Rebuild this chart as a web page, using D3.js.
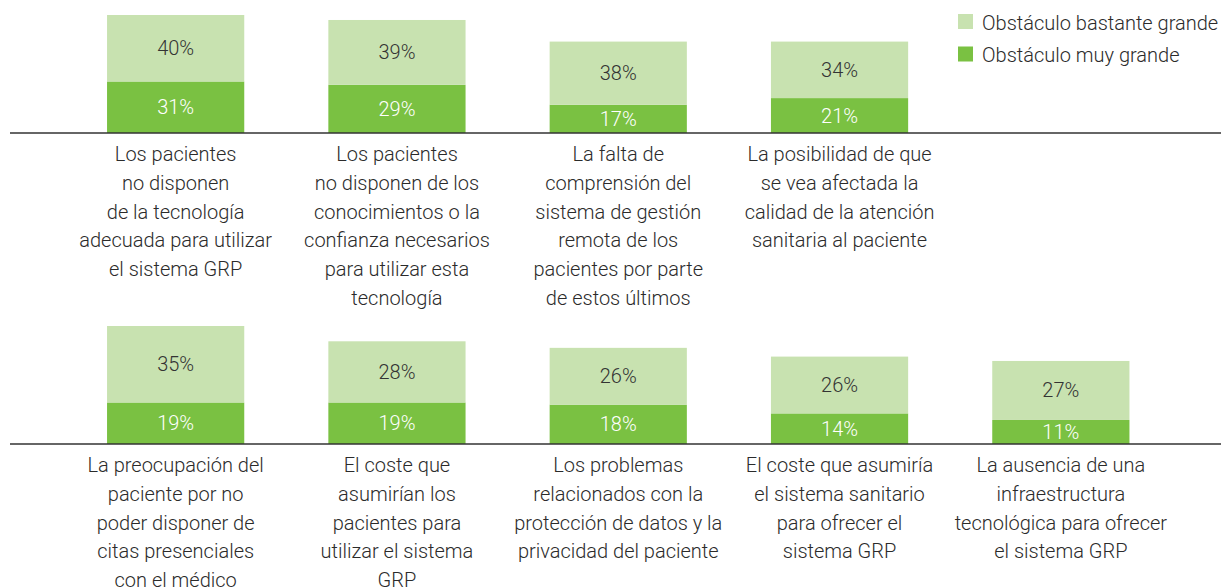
<!DOCTYPE html>
<html lang="es">
<head>
<meta charset="utf-8">
<script src="https://cdn.jsdelivr.net/npm/d3@7"></script>
<style>
  html, body { margin: 0; padding: 0; background: #fff; }
  svg text { font-family: Roboto, "Noto Sans", sans-serif; font-weight: 300; }
</style>
</head>
<body>
<svg id="chart"></svg>
<script>
// Series names and colours
const seriesNames = ["Obstáculo bastante grande", "Obstáculo muy grande"];
const seriesColors = ["#c8e2b0", "#7ac142"];

// Top row
const topLabels = [
  ["Los pacientes", "no disponen", "de la tecnología", "adecuada para utilizar", "el sistema GRP"],
  ["Los pacientes", "no disponen de los", "conocimientos o la", "confianza necesarios", "para utilizar esta", "tecnología"],
  ["La falta de", "comprensión del", "sistema de gestión", "remota de los", "pacientes por parte", "de estos últimos"],
  ["La posibilidad de que", "se vea afectada la", "calidad de la atención", "sanitaria al paciente"]
];
const topMuyGrande = [31, 29, 17, 21];
const topBastante = [40, 39, 38, 34];

// Bottom row
const bottomLabels = [
  ["La preocupación del", "paciente por no", "poder disponer de", "citas presenciales", "con el médico"],
  ["El coste que", "asumirían los", "pacientes para", "utilizar el sistema", "GRP"],
  ["Los problemas", "relacionados con la", "protección de datos y la", "privacidad del paciente"],
  ["El coste que asumiría", "el sistema sanitario", "para ofrecer el", "sistema GRP"],
  ["La ausencia de una", "infraestructura", "tecnológica para ofrecer", "el sistema GRP"]
];
const bottomMuyGrande = [19, 19, 18, 14, 11];
const bottomBastante = [35, 28, 26, 26, 27];

const width = 1229;
const height = 588;
const barMax = 118;      // pixel height of the tallest bar in each row
const lineHeight = 28.8;

const svg = d3.select("#chart")
  .attr("width", width)
  .attr("height", height);

// Shared slot positions for both rows
const x = d3.scaleBand()
  .domain(d3.range(5))
  .range([65, 1171.5])
  .paddingInner(0.38)
  .paddingOuter(0.19);

function drawRow(labels, muy, bastante, baseY) {
  const rows = labels.map((l, i) => ({ i, labels: l, muy: muy[i], bastante: bastante[i] }));
  const y = d3.scaleLinear()
    .domain([0, d3.max(rows, d => d.muy + d.bastante)])
    .range([baseY, baseY - barMax]);

  const g = svg.append("g");

  const bars = g.selectAll("g.bar")
    .data(rows)
    .enter()
    .append("g")
    .attr("class", "bar");

  // dark (muy grande) segment at the bottom
  bars.append("rect")
    .attr("x", d => x(d.i))
    .attr("width", x.bandwidth())
    .attr("y", d => y(d.muy))
    .attr("height", d => y(0) - y(d.muy))
    .attr("fill", seriesColors[1]);

  // light (bastante grande) segment stacked on top
  bars.append("rect")
    .attr("x", d => x(d.i))
    .attr("width", x.bandwidth())
    .attr("y", d => y(d.muy + d.bastante))
    .attr("height", d => y(d.muy) - y(d.muy + d.bastante))
    .attr("fill", seriesColors[0]);

  bars.append("text")
    .attr("x", d => x(d.i) + x.bandwidth() / 2)
    .attr("y", d => (y(0) + y(d.muy)) / 2)
    .attr("dy", "0.35em")
    .attr("text-anchor", "middle")
    .style("font-size", "20px")
    .attr("fill", "#fff")
    .text(d => d.muy + "%");

  bars.append("text")
    .attr("x", d => x(d.i) + x.bandwidth() / 2)
    .attr("y", d => (y(d.muy) + y(d.muy + d.bastante)) / 2)
    .attr("dy", "0.35em")
    .attr("text-anchor", "middle")
    .style("font-size", "20px")
    .attr("fill", "#333")
    .text(d => d.bastante + "%");

  // baseline
  g.append("line")
    .attr("x1", 10)
    .attr("x2", 1221)
    .attr("y1", baseY)
    .attr("y2", baseY)
    .attr("stroke", "#333")
    .attr("stroke-width", 1.5);

  // category labels, line by line
  bars.append("text")
    .attr("text-anchor", "middle")
    .style("font-size", "20px")
    .attr("fill", "#2b2b2b")
    .selectAll("tspan")
    .data(d => d.labels.map((t, k) => ({ t, k, cx: x(d.i) + x.bandwidth() / 2 })))
    .enter()
    .append("tspan")
    .attr("x", d => d.cx)
    .attr("y", d => baseY + 28 + d.k * lineHeight)
    .text(d => d.t);
}

drawRow(topLabels, topMuyGrande, topBastante, 133);
drawRow(bottomLabels, bottomMuyGrande, bottomBastante, 444);

// Legend
const legend = svg.append("g")
  .attr("transform", "translate(958, 14)");

const items = legend.selectAll("g")
  .data(seriesNames)
  .enter()
  .append("g")
  .attr("transform", (d, i) => `translate(0, ${i * 32.5})`);

items.append("rect")
  .attr("width", 15)
  .attr("height", 15)
  .attr("fill", (d, i) => seriesColors[i]);

items.append("text")
  .attr("x", 24)
  .attr("y", 15.5)
  .style("font-size", "20px")
  .attr("fill", "#2b2b2b")
  .text(d => d);
</script>
</body>
</html>
